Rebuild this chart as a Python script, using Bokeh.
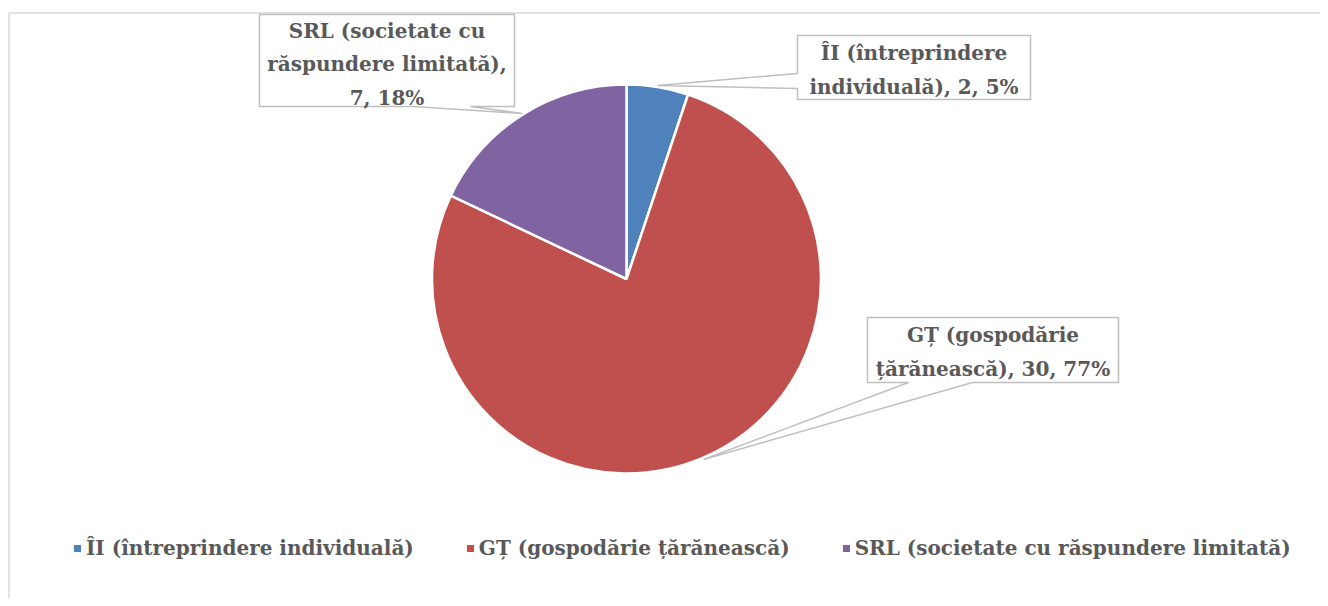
import math
from bokeh.plotting import figure
from bokeh.models import Range1d, ColumnDataSource, Legend, LegendItem
from bokeh.core.properties import value
from bokeh.embed import file_html
from bokeh.resources import INLINE

# ---- data ----
categories = ["ÎI (întreprindere individuală)",
              "GȚ (gospodărie țărănească)",
              "SRL (societate cu răspundere limitată)"]
values = [2, 30, 7]

# ---- style ----
colors = ["#4F81BD", "#C0504D", "#8064A2"]
FONT = "DejaVu Serif"
TXT = "#595959"
label_breaks = [[2], [2], [3, 5]]          # word indices where label lines break
# callout layout (page pixels): polygon (box + pointer) and text centre
callouts = [
    dict(poly=[(797, 35), (1030, 35), (1030, 99), (797, 99), (797, 88), (657, 85), (797, 73)],
         cx=913.5, cy=69.5),
    dict(poly=[(867, 317), (1118, 317), (1118, 382), (972, 382), (703, 459), (908, 382), (867, 382)],
         cx=992.5, cy=351.5),
    dict(poly=[(259, 14), (514, 14), (514, 106), (470, 106), (522, 113), (413, 106), (259, 106)],
         cx=386.5, cy=64),
]
PIE_CX, PIE_CY, PIE_R = 626, 278.5, 194.5

W, H = 1320, 598
p = figure(width=W, height=H, output_backend="svg", toolbar_location=None,
           x_range=Range1d(0, W), y_range=Range1d(-H, 0),
           min_border=0, outline_line_color=None)
p.axis.visible = False
p.grid.visible = False
p.background_fill_color = "white"
p.border_fill_color = "white"

# chart border (left and top visible)
p.quad(left=[8.5], right=[1500], top=[-12.5], bottom=[-800],
       fill_color=None, line_color="#D9D9D9", line_width=1.5)

# ---- pie ----
total = sum(values)
starts, ends, pcts = [], [], []
cum = 0
for v in values:
    starts.append(math.pi / 2 - 2 * math.pi * cum / total)
    cum += v
    ends.append(math.pi / 2 - 2 * math.pi * cum / total)
    pcts.append(round(100 * v / total))

src = ColumnDataSource(dict(x=[PIE_CX] * len(values), y=[-PIE_CY] * len(values),
                            start=starts, end=ends, color=colors, cat=categories, val=values))
pie = p.wedge(x="x", y="y", radius=PIE_R, start_angle="start", end_angle="end",
              direction="clock", fill_color="color", line_color="white", line_width=2.5,
              source=src)

# ---- data labels with callouts ----
for i, (cat, v, pc) in enumerate(zip(categories, values, pcts)):
    words = f"{cat}, {v}, {pc}%".split(" ")
    lines, prev = [], 0
    for b in label_breaks[i] + [len(words)]:
        lines.append(" ".join(words[prev:b]))
        prev = b
    c = callouts[i]
    xs = [pt[0] for pt in c["poly"]]
    ys = [-pt[1] for pt in c["poly"]]
    p.patch(xs, ys, fill_color="white", line_color="#BFBFBF", line_width=1.5)
    p.text(x=[c["cx"]], y=[-c["cy"]], text=["\n".join(lines)],
           text_font=value(FONT), text_font_style="bold", text_font_size="20px",
           text_color=TXT, text_align="center", text_baseline="middle",
           text_line_height=1.38)

# ---- legend ----
items = [LegendItem(label=cat, renderers=[pie], index=i) for i, cat in enumerate(categories)]
legend = Legend(items=items, orientation="horizontal", location=(71, 38),
                glyph_width=12, glyph_height=12, label_standoff=3, spacing=50,
                label_text_font=FONT, label_text_font_style="bold",
                label_text_font_size="20px", label_text_color=TXT,
                label_height=24, padding=0, margin=0,
                border_line_color=None, background_fill_alpha=0)
p.add_layout(legend)

open("out.html", "w").write(file_html(p, INLINE))
